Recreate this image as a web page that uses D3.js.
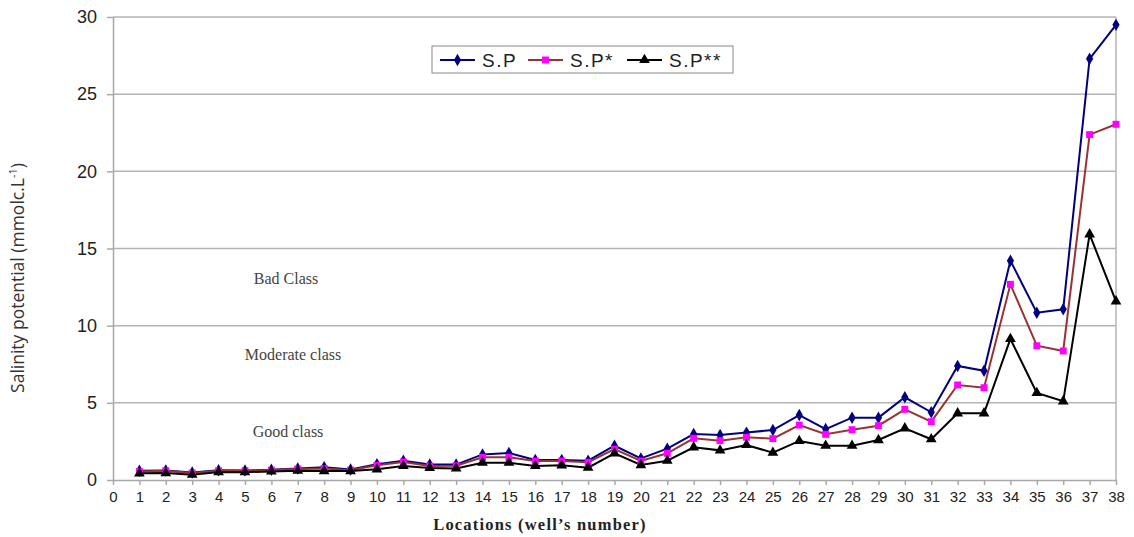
<!DOCTYPE html>
<html>
<head>
<meta charset="utf-8">
<script src="https://cdn.jsdelivr.net/npm/d3@7"></script>
<style>
  body { margin: 0; background: #fff; }
  svg { display: block; }
</style>
</head>
<body>
<script>
// well numbers 1..38
var locations = [1,2,3,4,5,6,7,8,9,10,11,12,13,14,15,16,17,18,19,20,21,22,23,24,25,26,27,28,29,30,31,32,33,34,35,36,37,38];

var sp = [0.6,0.62,0.48,0.63,0.62,0.66,0.74,0.82,0.68,1.02,1.25,1.0,1.0,1.66,1.75,1.3,1.3,1.25,2.22,1.4,2.03,2.98,2.92,3.07,3.24,4.21,3.3,4.04,4.04,5.36,4.39,7.39,7.08,14.21,10.84,11.06,27.29,29.49];
var spStar = [0.55,0.6,0.45,0.6,0.6,0.64,0.72,0.75,0.64,0.95,1.17,0.9,0.93,1.47,1.47,1.23,1.23,1.15,2.0,1.23,1.73,2.7,2.55,2.77,2.68,3.56,2.96,3.26,3.52,4.58,3.78,6.16,5.98,12.68,8.7,8.36,22.38,23.05];
var spStar2 = [0.43,0.45,0.34,0.51,0.51,0.55,0.6,0.58,0.58,0.69,0.91,0.78,0.75,1.12,1.12,0.91,0.95,0.8,1.73,0.97,1.25,2.12,1.92,2.27,1.77,2.53,2.22,2.22,2.59,3.35,2.64,4.32,4.32,9.14,5.64,5.1,15.92,11.58];

var seriesNames = ["S.P", "S.P*", "S.P**"];
var yTicks = [0, 5, 10, 15, 20, 25, 30];
var classLabels = ["Bad Class", "Moderate class", "Good class"];
var classLevels = [12.7, 7.8, 2.8];

var width = 1134, height = 537;
var margin = { top: 17, right: 18, bottom: 57, left: 113 };

var svg = d3.select("body")
    .append("svg")
    .attr("width", width)
    .attr("height", height);

var x = d3.scaleLinear()
    .domain([0, 38])
    .range([margin.left, width - margin.right]);

var y = d3.scaleLinear()
    .domain([0, 30])
    .range([height - margin.bottom, margin.top]);

// gridlines
svg.append("g")
    .selectAll("line")
    .data(yTicks.slice(1))
    .enter().append("line")
    .attr("x1", x(0))
    .attr("x2", x(38))
    .attr("y1", function (d) { return y(d); })
    .attr("y2", function (d) { return y(d); })
    .attr("stroke", "#b4b4b4")
    .attr("stroke-width", 1.5);

// right border of plot
svg.append("line")
    .attr("x1", x(38)).attr("x2", x(38))
    .attr("y1", y(30)).attr("y2", y(0))
    .attr("stroke", "#b4b4b4")
    .attr("stroke-width", 1.5);

// y axis
var yAxis = svg.append("g")
    .attr("transform", "translate(" + x(0) + ",0)")
    .call(d3.axisLeft(y).tickValues(yTicks).tickSize(6).tickSizeOuter(0).tickPadding(10));
yAxis.select(".domain").attr("stroke", "#a8a8a8").attr("stroke-width", 1.5);
yAxis.selectAll(".tick line").attr("stroke", "#a8a8a8").attr("stroke-width", 1.5);
yAxis.selectAll("text")
    .attr("font-family", "Liberation Sans, Arial, sans-serif")
    .attr("font-size", 18)
    .attr("fill", "#222");

// x axis
var xAxis = svg.append("g")
    .attr("transform", "translate(0," + y(0) + ")")
    .call(d3.axisBottom(x).tickValues(d3.range(0, 39)).tickFormat(d3.format("d")).tickSize(5).tickSizeOuter(0).tickPadding(6));
xAxis.select(".domain").attr("stroke", "#a8a8a8").attr("stroke-width", 1.5);
xAxis.selectAll(".tick line").attr("stroke", "#a8a8a8").attr("stroke-width", 1.5);
xAxis.selectAll("text")
    .attr("font-family", "Liberation Sans, Arial, sans-serif")
    .attr("font-size", 15)
    .attr("fill", "#222");

// axis titles
var yTitle = svg.append("text")
    .attr("transform", "translate(24," + 278 + ") rotate(-90)")
    .attr("text-anchor", "middle")
    .attr("font-family", "Open Sans, Liberation Sans, sans-serif")
    .attr("font-size", 17.5)
    .attr("fill", "#333");
yTitle.append("tspan").text("Salinity potential (mmolc.L");
yTitle.append("tspan").attr("dy", -7).attr("font-size", 11).text("-1");
yTitle.append("tspan").attr("dy", 7).text(")");

svg.append("text")
    .attr("x", 540)
    .attr("y", 530)
    .attr("text-anchor", "middle")
    .attr("font-family", "Liberation Serif, Times New Roman, serif")
    .attr("font-size", 16.5)
    .attr("font-weight", "bold")
    .attr("letter-spacing", 1.2)
    .attr("fill", "#222")
    .text("Locations (well\u2019s number)");

// class labels
var classX = [286, 293, 288];
svg.append("g")
    .selectAll("text")
    .data(classLabels)
    .enter().append("text")
    .attr("x", function (d, i) { return classX[i]; })
    .attr("y", function (d, i) { return y(classLevels[i]); })
    .attr("text-anchor", "middle")
    .attr("font-family", "Liberation Serif, Times New Roman, serif")
    .attr("font-size", 16)
    .attr("fill", "#444")
    .text(function (d) { return d; });

// series
var series = [
    { name: seriesNames[0], values: sp, line: "#000080", fill: "#000080", shape: d3.symbolDiamond, size: 45 },
    { name: seriesNames[1], values: spStar, line: "#993333", fill: "#ff00ff", shape: d3.symbolSquare, size: 48 },
    { name: seriesNames[2], values: spStar2, line: "#000000", fill: "#000000", shape: d3.symbolTriangle, size: 50 }
];

var line = d3.line()
    .x(function (d, i) { return x(locations[i]); })
    .y(function (d) { return y(d); });

series.forEach(function (s) {
    svg.append("path")
        .datum(s.values)
        .attr("d", line)
        .attr("fill", "none")
        .attr("stroke", s.line)
        .attr("stroke-width", 2);
});

series.forEach(function (s) {
    svg.append("g")
        .selectAll("path")
        .data(s.values)
        .enter().append("path")
        .attr("d", d3.symbol().type(s.shape).size(s.size))
        .attr("transform", function (d, i) {
            return "translate(" + x(locations[i]) + "," + y(d) + ")";
        })
        .attr("fill", s.fill);
});

// legend
var legend = svg.append("g");
legend.append("rect")
    .attr("x", 432).attr("y", 46)
    .attr("width", 301).attr("height", 27)
    .attr("fill", "#fff")
    .attr("stroke", "#888")
    .attr("stroke-width", 1);

var legendX = [440, 528, 627];
series.forEach(function (s, i) {
    var lx = legendX[i];
    legend.append("line")
        .attr("x1", lx).attr("x2", lx + 35)
        .attr("y1", 60).attr("y2", 60)
        .attr("stroke", s.line)
        .attr("stroke-width", 2);
    legend.append("path")
        .attr("d", d3.symbol().type(s.shape).size(s.size))
        .attr("transform", "translate(" + (lx + 17.5) + ",60)")
        .attr("fill", s.fill);
    legend.append("text")
        .attr("x", lx + 42)
        .attr("y", 67)
        .attr("font-family", "Liberation Sans, Arial, sans-serif")
        .attr("font-size", 19)
        .attr("letter-spacing", 1.5)
        .attr("fill", "#222")
        .text(s.name);
});
</script>
</body>
</html>
